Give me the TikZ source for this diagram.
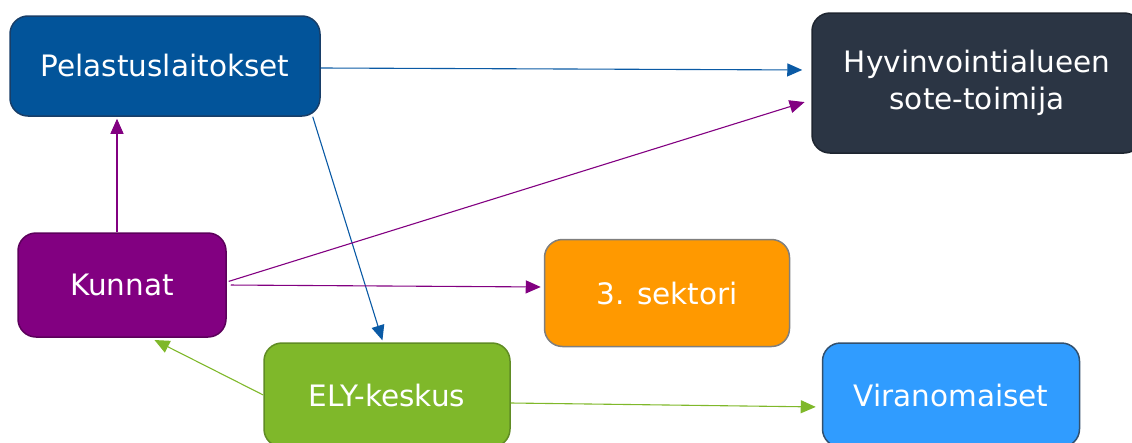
\documentclass[tikz,border=0pt]{standalone}
\usepackage{fontspec}
\setmainfont{DejaVu Sans}
\usepackage{tikz}
\usetikzlibrary{arrows.meta,calc}
\definecolor{pelblue}{RGB}{2,84,154}
\definecolor{peledge}{RGB}{24,62,104}
\definecolor{kunpurple}{RGB}{130,0,129}
\definecolor{kunedge}{RGB}{92,0,91}
\definecolor{elygreen}{RGB}{127,184,42}
\definecolor{elyedge}{RGB}{96,140,36}
\definecolor{sekorange}{RGB}{255,153,0}
\definecolor{sekedge}{RGB}{127,127,127}
\definecolor{hyvdark}{RGB}{43,53,68}
\definecolor{hyvedge}{RGB}{30,37,48}
\definecolor{virblue}{RGB}{48,156,255}
\definecolor{viredge}{RGB}{50,80,110}
\definecolor{lineblue}{RGB}{10,90,165}
\tikzstyle{box} = [rectangle, rounded corners=18pt, line width=1.5pt, text=white, align=center, font=\fontsize{29.5}{37}\selectfont]
\tikzstyle{line} = [draw, line width=1.1pt, -{Triangle[length=15pt,width=13pt]}]
\tikzstyle{pel_box} = [box, draw=peledge, fill=pelblue, minimum width=310pt, minimum height=100pt]
\tikzstyle{kun_box} = [box, draw=kunedge, fill=kunpurple, minimum width=208pt, minimum height=104pt]
\tikzstyle{ely_box} = [box, draw=elyedge, fill=elygreen, minimum width=246pt, minimum height=104pt]
\tikzstyle{sek_box} = [box, draw=sekedge, fill=sekorange, minimum width=245pt, minimum height=107pt]
\tikzstyle{hyv_box} = [box, draw=hyvedge, fill=hyvdark, minimum width=330pt, minimum height=140pt]
\tikzstyle{vir_box} = [box, draw=viredge, fill=virblue, minimum width=257pt, minimum height=104pt]
\begin{document}
\begin{tikzpicture}[x=1pt, y=-1pt]
			\useasboundingbox (0,0) rectangle (1132,442);
			\clip (0,0) rectangle (1132,442);
			\node [pel_box] (pel) at (165,66) {Pelastuslaitokset};
			\node [kun_box] (kun) at (122,285) {Kunnat};
			\node [ely_box] (ely) at (387,395) {ELY-keskus};
			\node [sek_box] (sek) at (667,293) {3. sektori};
			\node [hyv_box] (hyv) at (977,83) {Hyvinvointialueen\\sote-toimija};
			\node [vir_box] (vir) at (951,395) {Viranomaiset};
			
			\path [line, lineblue, shorten >=9pt] ([yshift=-2pt]pel.east) -- ([yshift=13pt]hyv.west);
			\path [line, lineblue, shorten >=2pt] ([xshift=-8pt]pel.south east) -- ([xshift=-4pt]ely.north);
			\path [line, kunpurple, shorten >=2pt] ([xshift=-5pt]kun.north) -- ([xshift=-48pt]pel.south);
			\path [line, kunpurple, shorten <=2pt, shorten >=7pt] ([yshift=3pt]kun.east) -- ([yshift=-17pt]hyv.west);
			\path [line, kunpurple, shorten <=4pt, shorten >=3pt] (kun.east) -- ([yshift=6pt]sek.west);
			\path [line, elygreen, shorten >=5pt] (ely.west) -- ([xshift=28pt]kun.south);
			\path [line, elygreen, shorten >=6pt] ([yshift=-8pt]ely.east) -- ([yshift=-12pt]vir.west);
		\end{tikzpicture}
\end{document}
